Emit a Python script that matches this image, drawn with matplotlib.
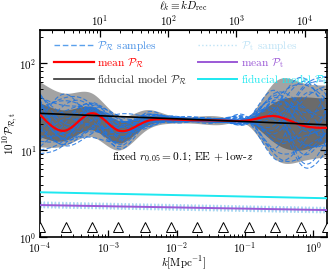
import numpy as np
import matplotlib
matplotlib.use("Agg")
import matplotlib.pyplot as plt
from matplotlib.lines import Line2D
from matplotlib.ticker import LogLocator, NullFormatter

plt.rcParams['font.family'] = ['cmr10', 'DejaVu Serif']
plt.rcParams['mathtext.fontset'] = 'cm'
plt.rcParams['axes.formatter.use_mathtext'] = True
plt.rcParams['axes.unicode_minus'] = False

# ---------------- data ----------------
k_knots = [1e-4, 2.4e-4, 5.8e-4, 1.4e-3, 3.4e-3, 8.2e-3, 0.020, 0.048, 0.115, 0.28, 0.67, 1.6]
pr_mean = [25.5, 16.8, 26.5, 16.8, 21.0, 22.5, 22.0, 21.8, 22.0, 24.5, 19.3, 18.0]
pr_hi2 = [61, 45, 45, 25, 29, 25, 24.5, 24, 24.5, 62, 60, 56]
pr_lo2 = [10.9, 11.4, 14.2, 10.0, 16.5, 20.3, 20.2, 19.8, 18.8, 7.9, 7.5, 8.4]
pr_hi1 = [35, 29, 31.5, 22, 24.5, 24, 23.5, 23, 23.5, 36, 41, 39]
pr_lo1 = [14.2, 13.0, 17.0, 12.0, 18.5, 21.0, 21.2, 20.8, 20.5, 12.0, 10.0, 12.5]

# sample deviations at each knot (in units of the 1-sigma band)
pr_samples_z = [
    [1.8, 1.5, 0.8, 0.5, 0.3, 0.2, 0.4, 0.1, -0.3, 1.5, 1.8, 1.2],
    [-1.5, -0.8, 0.3, 1.2, 0.8, 0.5, -0.2, -0.5, -0.8, -1.6, -1.2, -0.5],
    [0.5, 2.0, 1.5, -0.5, -1.0, -0.6, 0.3, 0.6, 0.8, 0.4, -0.8, -1.5],
    [-0.8, -1.8, -1.2, 0.3, 1.5, 1.0, 0.5, 0.0, -0.5, 2.0, 0.9, 0.3],
    [2.2, 0.4, -0.9, -1.6, -0.4, 0.8, 1.0, 0.5, 0.2, -0.6, 1.5, 2.0],
    [-2.0, -1.0, 0.9, 1.8, 0.2, -1.0, -0.8, -0.3, 0.5, 1.0, -1.8, -1.0],
    [0.2, 0.9, 1.9, 0.8, -1.5, -0.3, 0.6, 1.0, 1.2, -1.2, -0.3, 1.5],
    [1.0, -0.5, -1.8, -1.0, 0.6, 1.4, 0.2, -0.8, -1.5, 0.8, 2.1, 0.5],
    [-0.3, 1.2, 0.2, -1.8, -0.8, 0.3, -1.2, -1.0, 0.0, 1.8, 0.5, -1.8],
    [1.4, -1.4, -0.5, 1.0, 1.0, -0.5, 1.3, 0.8, -1.0, -2.0, -1.0, 0.8],
    [-1.2, 0.0, 1.2, 0.0, -0.2, 1.8, 0.0, -1.4, 1.5, 0.2, -2.0, -2.0],
    [0.8, 1.8, -0.2, -1.2, 1.8, 0.0, -0.5, 1.5, 0.6, -0.8, 1.0, 1.8],
    [-0.6, -2.0, -1.5, 0.6, 0.0, -1.5, 0.8, 0.3, -1.2, 1.2, 0.0, -0.6],
    [2.0, 1.0, 0.5, 1.5, -1.2, 0.6, -1.6, 0.0, 1.0, -1.5, 1.2, 1.0],
    [-1.8, 0.5, 1.6, -0.8, 0.4, 1.1, 0.9, -0.6, -0.2, 0.6, -1.4, -0.2],
    [0.0, -1.2, -1.0, 2.0, 1.2, -0.8, -0.3, 1.2, 1.8, 1.6, 0.3, -1.2],
    [1.2, 0.2, -1.4, -0.2, -1.8, 0.4, 1.6, 0.4, -0.6, -0.4, 1.6, 2.2],
    [-1.0, 1.6, 0.7, -1.4, 0.9, -1.2, -0.9, -1.2, 0.4, -1.0, -0.6, 0.0],
    [0.6, -0.3, 2.0, 0.2, -0.6, 1.6, 0.2, 0.9, -1.8, 0.0, 0.8, -0.9],
    [-2.2, -1.6, 0.0, 1.0, 1.6, 0.2, -1.3, -0.2, 1.1, 2.2, -0.2, 0.6],
    [1.6, -0.6, 1.0, -0.6, 0.5, -0.2, 0.7, -0.9, 0.3, -1.8, -1.6, -0.3],
    [-0.4, 2.2, -0.6, 0.4, -0.5, 0.9, -0.6, 1.3, -0.9, 0.5, 1.9, 1.4],
    [0.3, -0.9, 1.4, 1.4, 0.1, -0.7, 1.1, 0.2, 0.7, -0.2, -0.9, -1.6],
    [-1.4, 0.7, -1.1, -0.4, 1.3, 0.7, -0.1, -0.4, -1.3, 1.4, 0.6, 0.9],
]

k_ends = [1e-4, 1.6]
pr_fid_ends = [26.4, 19.5]
pt_fid_ends = [3.27, 2.79]
pt_mean_ends = [2.33, 2.04]
pt_samp_left = [2.52, 2.45, 2.40, 2.36, 2.31, 2.27, 2.22, 2.18, 2.48, 2.34, 2.25, 2.42, 2.29, 2.20]
pt_samp_right = [2.18, 2.15, 2.10, 2.06, 2.02, 1.98, 1.94, 1.90, 2.12, 2.04, 1.96, 2.08, 2.00, 1.92]

knot_marker_y = 1.3
D_rec = 13300.0

# ---------------- helpers ----------------
def natural_spline(xk, yk, x):
    xk = np.asarray(xk, float); yk = np.asarray(yk, float)
    n = len(xk); h = np.diff(xk)
    A = np.zeros((n, n)); b = np.zeros(n)
    A[0, 0] = A[-1, -1] = 1.0
    for i in range(1, n - 1):
        A[i, i - 1] = h[i - 1]; A[i, i] = 2 * (h[i - 1] + h[i]); A[i, i + 1] = h[i]
        b[i] = 6 * ((yk[i + 1] - yk[i]) / h[i] - (yk[i] - yk[i - 1]) / h[i - 1])
    M = np.linalg.solve(A, b)
    idx = np.clip(np.searchsorted(xk, x) - 1, 0, n - 2)
    x0 = xk[idx]; x1 = xk[idx + 1]; hh = h[idx]
    return (M[idx] * (x1 - x) ** 3 / (6 * hh) + M[idx + 1] * (x - x0) ** 3 / (6 * hh)
            + (yk[idx] / hh - M[idx] * hh / 6) * (x1 - x)
            + (yk[idx + 1] / hh - M[idx + 1] * hh / 6) * (x - x0))

lk = np.log10(k_knots)
xx = np.linspace(lk[0], lk[-1], 600)
kk = 10 ** xx

def smooth(vals):
    return 10 ** natural_spline(lk, np.log10(vals), xx)

lm = np.log10(pr_mean)
up1 = np.log10(pr_hi1) - lm
dn1 = lm - np.log10(pr_lo1)

FS = 8
LFS = 8.2

# ---------------- figure ----------------
fig = plt.figure(figsize=(3.32, 2.70), dpi=100)
ax = fig.add_axes([0.1205, 0.1222, 0.8645, 0.7667])
ax.set_xscale('log'); ax.set_yscale('log')

ax.fill_between(kk, smooth(pr_lo2), smooth(pr_hi2), color='#a3a3a3', lw=0, zorder=1)
ax.fill_between(kk, smooth(pr_lo1), smooth(pr_hi1), color='#6b6b6b', lw=0, zorder=1.1)

for z in pr_samples_z:
    z = 0.8 * np.asarray(z)
    vals = 10 ** (lm + np.where(z > 0, z * up1, z * dn1))
    ax.plot(kk, smooth(vals), ls=(0, (4, 2)), color='#1f74e0', lw=0.8, alpha=0.85, zorder=2)

for a, b in zip(pt_samp_left, pt_samp_right):
    ax.plot(k_ends, [a, b], ls=':', color='#a9d8f2', lw=1.0, zorder=2)

ax.plot(kk, smooth(pr_mean), color='red', lw=1.6, zorder=4)
ax.plot(k_ends, pr_fid_ends, color='black', lw=1.2, zorder=5)
ax.plot(k_ends, pt_mean_ends, color='#9b59d6', lw=1.4, zorder=4)
ax.plot(k_ends, pt_fid_ends, color='#1ee8f0', lw=1.4, zorder=4)

ax.plot(k_knots, [knot_marker_y] * len(k_knots), ls='none', marker='^', ms=7,
        mfc='white', mec='black', mew=0.7, zorder=6)

ax.set_xlim(1e-4, 1.6)
ax.set_ylim(1, 240)

ax.text(0.5, 0.385, r'fixed $r_{0.05}=0.1$; EE + low-$z$', transform=ax.transAxes,
        ha='center', va='center', fontsize=LFS)

ax.set_xlabel(r'$k[\mathrm{Mpc}^{-1}]$', fontsize=FS, labelpad=0)
ax.set_ylabel(r'$10^{10}\mathcal{P}_{\mathcal{R},\mathrm{t}}$', fontsize=FS, labelpad=0)

for sp in ax.spines.values():
    sp.set_linewidth(1.2)

ax.xaxis.set_major_locator(LogLocator(base=10, numticks=20))
ax.xaxis.set_minor_locator(LogLocator(base=10, subs=np.arange(2, 10), numticks=20))
ax.xaxis.set_minor_formatter(NullFormatter())
ax.tick_params(which='both', direction='in', top=False, right=True, labelsize=FS)
ax.tick_params(which='major', length=5, width=0.9, pad=2.5)
ax.tick_params(which='minor', length=2.5, width=0.7)

sec = ax.secondary_xaxis('top', functions=(lambda k: k * D_rec, lambda l: l / D_rec))
sec.xaxis.set_major_locator(LogLocator(base=10, numticks=20))
sec.xaxis.set_minor_locator(LogLocator(base=10, subs=np.arange(2, 10), numticks=20))
sec.xaxis.set_minor_formatter(NullFormatter())
sec.tick_params(which='both', direction='in', labelsize=FS)
sec.tick_params(which='major', length=5, width=0.9, pad=1.5)
sec.tick_params(which='minor', length=2.5, width=0.7)
sec.set_xlabel(r'$\ell_k \equiv k D_{\rm rec}$', fontsize=FS, labelpad=3)

handles = [
    Line2D([], [], ls=(0, (4, 2)), color='#5aa0ec', lw=1.0),
    Line2D([], [], color='red', lw=1.6),
    Line2D([], [], color='#333333', lw=1.2),
    Line2D([], [], ls=':', color='#bfe3f6', lw=1.0),
    Line2D([], [], color='#9b59d6', lw=1.4),
    Line2D([], [], color='#1ee8f0', lw=1.4),
]
labels = [r'$\mathcal{P}_{\mathcal{R}}$ samples', r'mean $\mathcal{P}_{\mathcal{R}}$',
          r'fiducial model $\mathcal{P}_{\mathcal{R}}$', r'$\mathcal{P}_{\rm t}$ samples',
          r'mean $\mathcal{P}_{\rm t}$', r'fiducial model $\mathcal{P}_{\rm t}$']
leg = ax.legend(handles, labels, ncol=2, loc='upper left', bbox_to_anchor=(0.012, 1.005),
                frameon=False, fontsize=LFS, handlelength=3.5, handletextpad=0.28,
                columnspacing=0.9, labelspacing=0.22)
text_colors = ['#4a92e6', 'red', '#333333', '#bfe3f6', '#9b59d6', '#1ee8f0']
for t, c in zip(leg.get_texts(), text_colors):
    t.set_color(c)

fig.savefig('out.png', dpi=100)
